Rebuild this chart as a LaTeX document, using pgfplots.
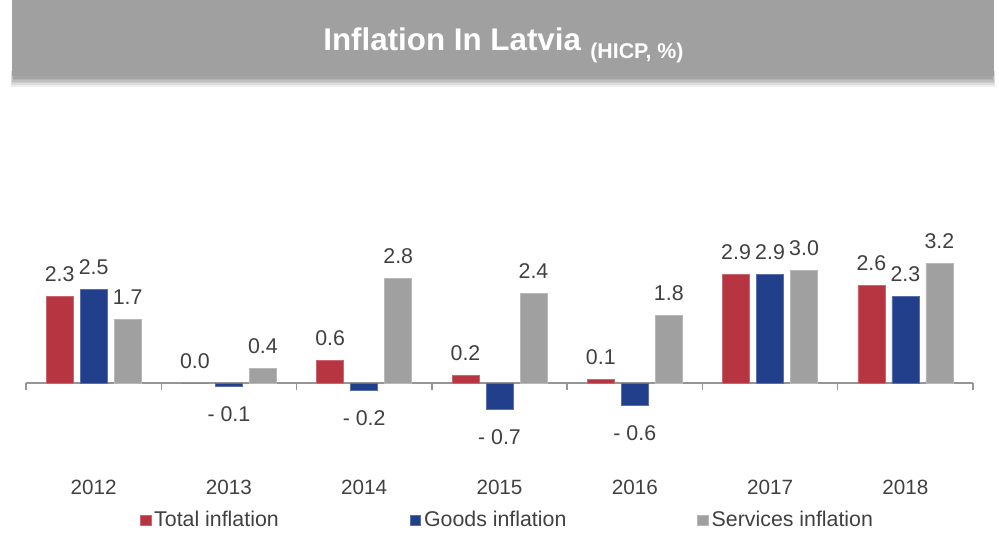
\documentclass[border=0pt]{standalone}
\usepackage{pgfplots}
\pgfplotsset{compat=1.18}
\usepackage{fontspec}
\setmainfont{Liberation Sans}
\definecolor{cred}{HTML}{B73540}
\definecolor{cblue}{HTML}{213F8A}
\definecolor{cgray}{HTML}{A0A0A0}
\definecolor{txt}{HTML}{404040}
\definecolor{axc}{HTML}{969696}
\definecolor{banner}{HTML}{A0A0A0}
\newcommand{\lblfont}{\fontsize{16}{19}\selectfont}
\begin{document}
\begin{tikzpicture}
\useasboundingbox (0,0) rectangle (749.25pt,405pt);
% banner shadow
\foreach \i in {0,1,2,3,4,5}{
  \fill[black,opacity=0.07] (8pt+0.4*\i pt,340pt+1.2*\i pt) rectangle (746.5pt-0.4*\i pt,352pt);
}
\fill[banner] (9pt,348pt) rectangle (745.5pt,405pt);
\node[anchor=base,text=white,font=\bfseries\fontsize{23.5}{28}\selectfont,inner sep=0pt]
  at (377.6pt,367pt) {Inflation In Latvia\hspace{7pt}\raisebox{-5.8pt}{\fontsize{16}{19}\selectfont (HICP, \%)}};
\begin{axis}[
  at={(19.5pt,84pt)}, anchor=south west,
  scale only axis, width=710.25pt, height=146.25pt,
  xmin=0.5, xmax=7.5, ymin=-1.2, ymax=4,
  axis y line=none, axis x line=middle,
  hide obscured x ticks=false,
  axis line style={axc, line width=1.2pt, -},
  every inner x axis line/.append style={-},
  xtick={1,2,3,4,5,6,7},
  xticklabels={2012,2013,2014,2015,2016,2017,2018},
  minor xtick={0.5,1.5,2.5,3.5,4.5,5.5,6.5,7.5},
  major tick length=0pt, minor tick length=5.25pt, tick align=outside,
  tick style={axc, line width=1pt},
  xticklabel style={anchor=center, yshift=-78pt, font=\fontsize{15.5}{18}\selectfont, text=txt},
  ybar=5.25pt, bar width=20.25pt,
  clip=false,
  visualization depends on=rawy \as \rawy,
  nodes near coords={\pgfmathsetmacro\absv{abs(\rawy)}\ifdim\rawy pt<0pt -\ \fi\pgfmathprintnumber[fixed,fixed zerofill,precision=1,assume math mode=true]{\absv}},
  nodes near coords align={vertical},
  every node near coord/.append style={font=\lblfont, text=txt, inner ysep=10.9pt, inner xsep=0pt, text depth=0pt, text height=15.2pt},
  sq legend/.style={legend image code/.code={\fill[##1] (0pt,-3.9pt) rectangle (7.9pt,3.9pt);}},
  legend style={at={(axis description cs:0.509,-0.472)}, anchor=center, draw=none, fill=none,
    legend columns=3, font=\lblfont, text=txt,
    nodes={inner xsep=2.3pt},
    /tikz/every even column/.append style={column sep=96pt}},
]
\addplot[fill=cred, draw=cred!75!white, line width=0.5pt, sq legend] coordinates {
  (1,2.3) (2,0.0) (3,0.6) (4,0.2) (5,0.1) (6,2.9) (7,2.6)};
\addplot[fill=cblue, draw=cblue!75!white, line width=0.5pt, sq legend] coordinates {
  (1,2.5) (2,-0.1) (3,-0.2) (4,-0.7) (5,-0.6) (6,2.9) (7,2.3)};
\addplot[fill=cgray, draw=cgray!75!white, line width=0.5pt, sq legend] coordinates {
  (1,1.7) (2,0.4) (3,2.8) (4,2.4) (5,1.8) (6,3.0) (7,3.2)};
\legend{Total inflation, Goods inflation, Services inflation}
\end{axis}
\end{tikzpicture}
\end{document}
